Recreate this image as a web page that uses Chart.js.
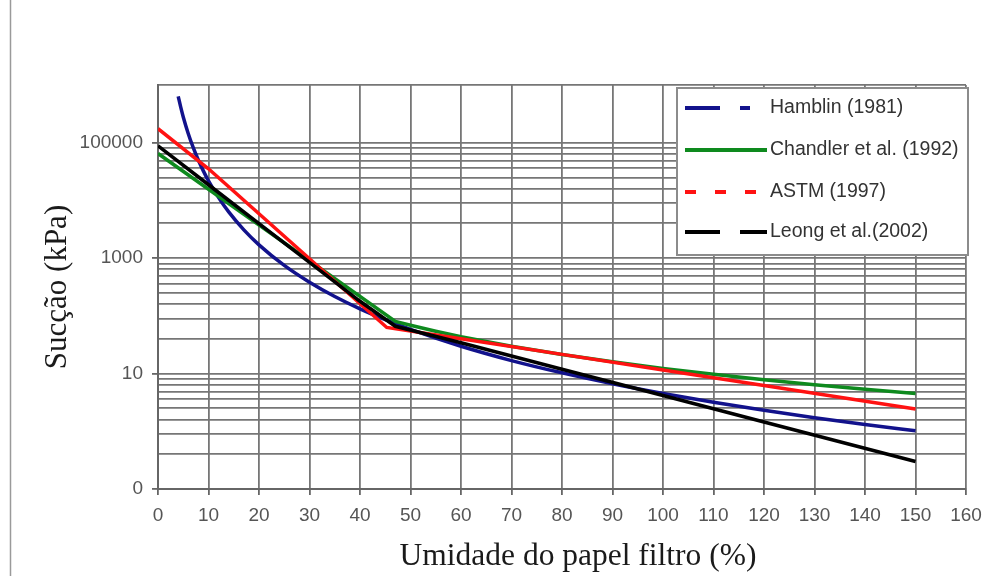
<!DOCTYPE html>
<html>
<head>
<meta charset="utf-8">
<title>Sucção x Umidade do papel filtro</title>
<script src="https://cdn.jsdelivr.net/npm/chart.js@4.4.0/dist/chart.umd.min.js"></script>
<style>
  body { margin: 0; background: #fff; }
  #wrap { position: relative; width: 985px; height: 576px; }
</style>
</head>
<body>
<div id="wrap"><canvas id="curveChart" width="985" height="576"></canvas></div>
<script>
// Umidade do papel filtro (%) e sucção (kPa)
const hamblinW = [4, 4.5, 5, 6, 7, 8, 9, 10, 12, 14, 17, 20, 25, 30, 35, 40, 45, 50, 60, 70, 80, 90, 100, 110, 120, 130, 140, 150];
const hamblinS = [637000, 413000, 280000, 143000, 81200, 49600, 32200, 21800, 11200, 6320, 3090, 1700, 747, 382, 216, 132, 85.8, 58.2, 29.7, 16.8, 10.3, 6.68, 4.53, 3.19, 2.31, 1.72, 1.31, 1.02];

const chandlerW = [0, 47, 50, 55, 60, 70, 80, 90, 100, 110, 120, 130, 140, 150];
const chandlerS = [65000, 80, 68.6, 54.2, 43.7, 29.8, 21.4, 16.0, 12.3, 9.71, 7.83, 6.42, 5.34, 4.50];

const astmW = [0, 10, 20, 30, 45.3, 60, 80, 100, 120, 150];
const astmS = [175000, 35300, 5870, 977, 63, 40, 21.5, 11.5, 6.2, 2.44];

const leongW = [0, 10, 20, 30, 40, 47, 60, 80, 100, 120, 150];
const leongS = [88100, 18700, 3970, 843, 179, 66, 34.3, 11.9, 4.16, 1.45, 0.30];

const seriesNames = ['Hamblin (1981)', 'Chandler et al. (1992)', 'ASTM (1997)', 'Leong et al.(2002)'];
const seriesColors = ['#12128c', '#0e8a1e', '#ff1212', '#000000'];
const legendDash = [[35, 20, 10, 40], [], [11, 19], [35, 20]];

// marcas do eixo y (log) e rótulos
const yTickValues = [0.1, 0.4, 0.9, 1.6, 2.5, 3.6, 4.9, 6.4, 8.1,
  10, 40, 90, 160, 250, 360, 490, 640, 810,
  1000, 4000, 9000, 16000, 25000, 36000, 49000, 64000, 81000,
  100000, 1000000];
const yLabelValues = [0.1, 10, 1000, 100000];
const yLabelText = ['0', '10', '1000', '100000'];

function toPoints(ws, ss) {
    return ws.map((w, i) => ({ x: w, y: ss[i] }));
}

const gridColor = '#767676';
const tickFont = { family: '"Liberation Sans", Arial, sans-serif', size: 19 };

// Legend box inside the plot + x title + the stray left rule
const extrasPlugin = {
    id: 'extras',
    beforeDraw(chart) {
        const ctx = chart.ctx;
        ctx.save();
        ctx.fillStyle = '#fff';
        ctx.fillRect(0, 0, chart.width, chart.height);
        ctx.strokeStyle = '#9a9a9a';
        ctx.lineWidth = 1.5;
        ctx.beginPath();
        ctx.moveTo(10.5, 0);
        ctx.lineTo(10.5, chart.height);
        ctx.stroke();
        ctx.restore();
    },
    afterDraw(chart) {
        const ctx = chart.ctx;
        ctx.save();
        // x axis title
        ctx.fillStyle = '#1a1a1a';
        ctx.font = '31.5px "Liberation Serif", "Times New Roman", serif';
        ctx.textAlign = 'center';
        ctx.textBaseline = 'middle';
        ctx.fillText('Umidade do papel filtro (%)', 578, 557);

        // legend
        ctx.fillStyle = '#fff';
        ctx.fillRect(677, 88, 291, 167);
        ctx.strokeStyle = '#8c8c8c';
        ctx.lineWidth = 2;
        ctx.strokeRect(677, 88, 291, 167);
        const rows = [108, 150, 192, 232];
        ctx.font = '19.5px "Liberation Sans", Arial, sans-serif';
        ctx.textAlign = 'left';
        seriesNames.forEach((name, i) => {
            ctx.strokeStyle = seriesColors[i];
            ctx.lineWidth = 4;
            ctx.setLineDash(legendDash[i]);
            ctx.beginPath();
            ctx.moveTo(685, rows[i]);
            ctx.lineTo(767, rows[i]);
            ctx.stroke();
            ctx.setLineDash([]);
            ctx.fillStyle = '#333';
            ctx.fillText(name, 770, rows[i]);
        });
        ctx.restore();
    }
};

const datasets = [
    { label: seriesNames[0], data: toPoints(hamblinW, hamblinS), borderColor: seriesColors[0], cubicInterpolationMode: 'monotone', order: 3 },
    { label: seriesNames[1], data: toPoints(chandlerW, chandlerS), borderColor: seriesColors[1], tension: 0, order: 2 },
    { label: seriesNames[2], data: toPoints(astmW, astmS), borderColor: seriesColors[2], tension: 0, order: 1 },
    { label: seriesNames[3], data: toPoints(leongW, leongS), borderColor: seriesColors[3], tension: 0, order: 0 }
].map(d => Object.assign({ borderWidth: 3.5, pointRadius: 0, fill: false }, d));

let curveChart = new Chart(document.getElementById('curveChart'), {
    type: 'line',
    data: { datasets: datasets },
    plugins: [extrasPlugin],
    options: {
        responsive: false,
        animation: false,
        devicePixelRatio: 1,
        layout: { padding: { top: 85, right: 19, left: 0, bottom: 0 } },
        plugins: {
            legend: { display: false },
            tooltip: { enabled: false }
        },
        scales: {
            x: {
                type: 'linear',
                min: 0,
                max: 160,
                afterFit: (scale) => {
                    scale.height = 87;
                    scale.paddingLeft = 0;
                    scale.paddingRight = 0;
                },
                ticks: {
                    stepSize: 10,
                    autoSkip: false,
                    maxRotation: 0,
                    padding: 9,
                    color: '#555',
                    font: tickFont
                },
                grid: { color: gridColor, lineWidth: 1.8, tickLength: 6, tickColor: '#666' },
                border: { color: '#666', width: 2 }
            },
            y: {
                type: 'logarithmic',
                min: 0.1,
                max: 1000000,
                afterFit: (scale) => {
                    scale.width = 158;
                    scale.paddingTop = 0;
                    scale.paddingBottom = 0;
                },
                afterBuildTicks: (scale) => {
                    scale.ticks = yTickValues.map(v => ({ value: v }));
                },
                ticks: {
                    autoSkip: false,
                    padding: 9,
                    color: '#555',
                    font: tickFont,
                    callback: (v) => {
                        const k = yLabelValues.indexOf(v);
                        return k >= 0 ? yLabelText[k] : '';
                    }
                },
                grid: {
                    color: gridColor,
                    lineWidth: 1.8,
                    tickLength: 6,
                    tickColor: (ctx) => yLabelValues.includes(ctx.tick.value) ? '#666' : 'rgba(0,0,0,0)'
                },
                border: { color: '#666', width: 2 },
                title: {
                    display: true,
                    text: 'Sucção (kPa)',
                    color: '#1a1a1a',
                    font: { family: '"Liberation Serif", "Times New Roman", serif', size: 31 },
                    padding: { top: 39, bottom: 0 }
                }
            }
        }
    }
});
</script>
</body>
</html>
